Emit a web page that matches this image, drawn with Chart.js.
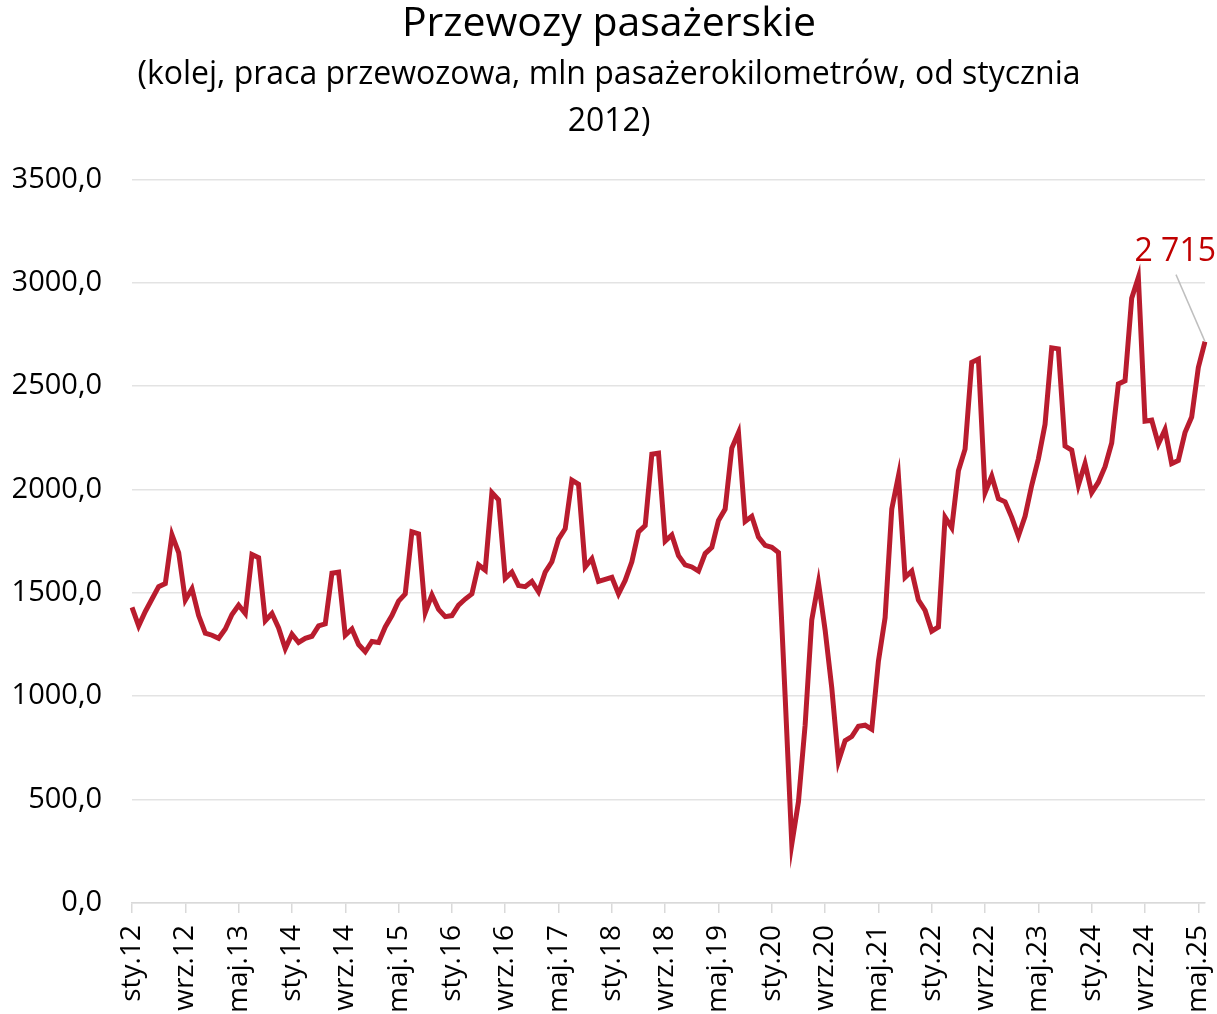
<!DOCTYPE html>
<html>
<head>
<meta charset="utf-8">
<script src="https://cdn.jsdelivr.net/npm/chart.js@4.4.1/dist/chart.umd.min.js"></script>
<style>
  html, body { margin: 0; padding: 0; background: #fff; }
  #wrap { width: 1217px; height: 1014px; }
</style>
</head>
<body>
<div id="wrap"><canvas id="chart"></canvas></div>
<script>
// miesiące i lata (sty.12 ... cze.25)
const monthNames = ['sty', 'lut', 'mar', 'kwi', 'maj', 'cze', 'lip', 'sie', 'wrz', 'paź', 'lis', 'gru']
const years = [12, 13, 14, 15, 16, 17, 18, 19, 20, 21, 22, 23, 24, 25]
const lastMonths = 6 // 2025 ends with cze

// praca przewozowa, mln pkm
const pkm2012 = [1430, 1340, 1410, 1470, 1530, 1545, 1780, 1695, 1465, 1520, 1390, 1305]
const pkm2013 = [1295, 1280, 1325, 1395, 1440, 1400, 1685, 1670, 1365, 1400, 1330, 1230]
const pkm2014 = [1300, 1260, 1280, 1290, 1340, 1350, 1595, 1600, 1295, 1325, 1250, 1215]
const pkm2015 = [1265, 1260, 1335, 1390, 1460, 1495, 1795, 1785, 1405, 1490, 1420, 1385]
const pkm2016 = [1390, 1440, 1470, 1495, 1635, 1610, 1985, 1950, 1570, 1600, 1535, 1530]
const pkm2017 = [1555, 1505, 1600, 1650, 1760, 1810, 2045, 2025, 1625, 1665, 1555, 1565]
const pkm2018 = [1575, 1495, 1560, 1650, 1795, 1825, 2170, 2175, 1750, 1780, 1680, 1635]
const pkm2019 = [1625, 1605, 1690, 1720, 1850, 1905, 2200, 2275, 1845, 1870, 1770, 1730]
const pkm2020 = [1720, 1695, 1000, 285, 490, 860, 1370, 1550, 1320, 1040, 685, 785]
const pkm2021 = [805, 855, 860, 840, 1170, 1380, 1905, 2065, 1575, 1605, 1465, 1415]
const pkm2022 = [1315, 1335, 1865, 1815, 2090, 2195, 2615, 2630, 1985, 2065, 1955, 1940]
const pkm2023 = [1865, 1775, 1870, 2020, 2148, 2315, 2685, 2680, 2210, 2190, 2020, 2125]
const pkm2024 = [1985, 2035, 2110, 2225, 2510, 2525, 2925, 3025, 2330, 2335, 2220, 2290]
const pkm2025 = [2125, 2140, 2275, 2350, 2590, 2715]

const values = [].concat(pkm2012, pkm2013, pkm2014, pkm2015, pkm2016, pkm2017, pkm2018,
  pkm2019, pkm2020, pkm2021, pkm2022, pkm2023, pkm2024, pkm2025)

const labels = []
years.forEach(function (y, yi) {
  const n = yi === years.length - 1 ? lastMonths : 12
  for (let m = 0; m < n; m++) labels.push(monthNames[m] + '.' + y)
})

const lineColor = '#b91c2e'
const fontFam = '"Open Sans", sans-serif'

// 2715 -> "2 715"
function fmtThousands(v) {
  return String(Math.round(v)).replace(/\B(?=(\d{3})+(?!\d))/g, ' ')
}

// podpis ostatniej wartości z linią odniesienia
const lastLabel = {
  id: 'lastLabel',
  afterDatasetsDraw(chart) {
    const meta = chart.getDatasetMeta(0)
    const pt = meta.data[meta.data.length - 1]
    const txt = fmtThousands(values[values.length - 1])
    const c = chart.ctx
    c.save()
    c.strokeStyle = '#bfbfbf'
    c.lineWidth = 1.5
    c.beginPath()
    c.moveTo(pt.x, pt.y)
    c.lineTo(pt.x - 29, pt.y - 67)
    c.stroke()
    c.fillStyle = '#c00000'
    c.font = '32px ' + fontFam
    c.textAlign = 'right'
    c.textBaseline = 'alphabetic'
    c.fillText(txt, pt.x + 11, pt.y - 81)
    c.restore()
  }
}

const chart = new Chart(document.getElementById('chart').getContext('2d'), {
  type: 'line',
  data: {
    labels,
    datasets: [{
      data: values,
      borderColor: lineColor,
      borderWidth: 5,
      pointRadius: 0,
      tension: 0,
      fill: false
    }]
  },
  options: {
    responsive: true,
    maintainAspectRatio: false,
    animation: false,
    layout: { padding: { left: 13, right: 12, top: 0, bottom: 0 } },
    plugins: {
      legend: { display: false },
      tooltip: { enabled: false },
      title: {
        display: true,
        text: 'Przewozy pasażerskie',
        color: '#000',
        font: { family: fontFam, size: 41, weight: 'normal', lineHeight: 1.2 },
        padding: { top: 0, bottom: 0 }
      },
      subtitle: {
        display: true,
        text: ['(kolej, praca przewozowa, mln pasażerokilometrów, od stycznia', '2012)'],
        color: '#000',
        font: { family: fontFam, size: 32, weight: 'normal', lineHeight: 1.47 },
        padding: { top: 2.5, bottom: 33.5 }
      }
    },
    scales: {
      x: {
        grid: {
          display: true,
          drawOnChartArea: false,
          drawTicks: true,
          tickLength: 10,
          color: '#d9d9d9',
          lineWidth: 1.5
        },
        border: { color: '#d9d9d9', width: 1.5 },
        ticks: {
          autoSkip: false,
          minRotation: 90,
          maxRotation: 90,
          padding: 12,
          color: '#000',
          font: { family: fontFam, size: 28 },
          callback: function (val, i) {
            return i % 8 === 0 ? labels[i] : null
          }
        },
        afterFit: function (scale) {
          scale.height = 111
          scale.paddingLeft = 0
          scale.paddingRight = 0
        }
      },
      y: {
        min: 0,
        max: 3500,
        grid: { color: '#e3e3e3', lineWidth: 1.5, drawTicks: false },
        border: { display: false },
        ticks: {
          stepSize: 500,
          padding: 30,
          color: '#000',
          font: { family: fontFam, size: 29 },
          callback: function (v) { return v.toFixed(1).replace('.', ',') }
        },
        afterFit: function (scale) {
          scale.width = 119
        }
      }
    }
  },
  plugins: [lastLabel]
})
</script>
</body>
</html>
